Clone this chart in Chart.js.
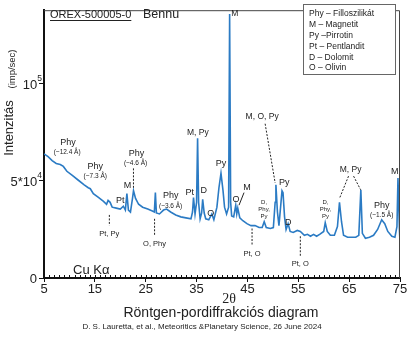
<!DOCTYPE html>
<html>
<head>
<meta charset="utf-8">
<script src="https://cdn.jsdelivr.net/npm/chart.js@4.4.1/dist/chart.umd.min.js"></script>
<style>
body { margin: 0; background: #fff; }
#wrap { width: 408px; height: 337px; }
</style>
</head>
<body>
<div id="wrap"><canvas id="myChart"></canvas></div>
<script>
// XRD pattern of Bennu sample
var twoTheta = [5.0, 5.8, 6.6, 7.4, 8.2, 8.8, 9.5, 10.5, 11.7, 12.9, 13.7, 14.1, 14.7, 15.7, 16.7, 17.3, 17.6, 18.0, 18.4, 19.2,
    20.0, 20.6, 21.0, 21.3, 21.6, 22.0, 22.4, 22.6, 23.0, 23.6, 24.4, 25.4, 26.3, 26.7, 26.9, 27.1, 27.7, 28.5, 29.1, 29.9,
    30.9, 31.9, 32.9, 33.9, 34.2, 34.4, 34.7, 35.0, 35.2, 35.4, 35.7, 36.0, 36.2, 36.5, 36.8, 37.4, 38.0, 38.4, 39.0, 39.4,
    39.8, 40.2, 40.5, 40.9, 41.3, 41.5, 41.7, 41.9, 42.3, 42.7, 42.9, 43.1, 43.5, 44.1, 44.9, 45.7, 46.5, 47.3, 47.9, 48.3,
    48.7, 49.5, 50.1, 50.45, 50.6, 50.9, 51.2, 51.6, 51.8, 52.0, 52.3, 52.6, 53.0, 53.4, 54.0, 54.8, 55.4, 56.2, 56.8, 57.4,
    58.0, 58.6, 59.2, 60.0, 60.3, 60.7, 61.3, 62.1, 62.7, 63.1, 63.5, 63.9, 64.7, 65.5, 66.3, 66.9, 67.3, 67.6, 68.2, 69.0,
    69.8, 70.6, 71.4, 72.0, 72.6, 73.4, 74.0, 74.4, 74.6, 74.9, 75.0];
var intensity = [64000, 62500, 60500, 59000, 58500, 57500, 55000, 53000, 50500, 48000, 46500, 46000, 43500, 41500, 39500, 38000, 40000, 39000, 36500, 36000,
    35500, 37000, 35000, 43500, 35000, 34000, 41000, 45000, 41000, 38000, 36500, 35500, 34500, 34000, 44000, 33500, 33000, 35000, 35500, 34000,
    32500, 31500, 31000, 30500, 34000, 41500, 33000, 39000, 72000, 39000, 30500, 33500, 40500, 33500, 30500, 30000, 33000, 30000, 36500, 46500,
    54000, 45000, 36500, 33000, 36500, 136000, 39000, 32000, 31500, 37500, 33000, 36000, 31000, 29500, 28000, 27000, 27000, 26000, 26000, 29000,
    26000, 25500, 26000, 39000, 48000, 34000, 27000, 39000, 45000, 44000, 31500, 25000, 28000, 24000, 23500, 24500, 24000, 22000, 22500, 21500,
    22500, 21500, 22500, 24000, 28500, 24000, 22000, 22000, 26500, 39000, 29000, 22000, 21000, 21000, 21000, 22000, 45500, 23000, 20500, 21000,
    22000, 25000, 30000, 28000, 24000, 21500, 21000, 26500, 51500, 24000, 19000];

var xTicks = [5, 15, 25, 35, 45, 55, 65, 75];
var yTicks = [0, 50000, 100000];
// [base, exponent]
var yTickLabels = [['0', ''], ['5*10', '4'], ['10', '5']];

var legendLines = ['Phy \u2013 Filloszilik\u00e1t', 'M \u2013 Magnetit', 'Py \u2013Pirrotin', 'Pt \u2013 Pentlandit', 'D \u2013 Dolomit', 'O \u2013 Olivin'];

// [text, 2theta, intensity, font size]
var peakLabels = [
    ['Phy', 9.74, 70000, 9], ['(~12.4 \u00c5)', 9.55, 65000, 6.5],
    ['Phy', 15.08, 57500, 9], ['(~7.3 \u00c5)', 15.08, 52500, 6.5],
    ['Phy', 23.2, 64000, 9], ['(~4.6 \u00c5)', 23.0, 59000, 6.5],
    ['M', 21.4, 47500, 9], ['Pt', 20.0, 40000, 9],
    ['Pt, Py', 17.85, 22500, 7.5], ['O, Phy', 26.74, 17500, 7.5],
    ['Phy', 29.9, 42500, 9], ['(~3.6 \u00c5)', 29.9, 37000, 6.5],
    ['Pt', 33.66, 44000, 9], ['D', 36.42, 45000, 9], ['M, Py', 35.24, 75000, 8.5],
    ['Py', 39.78, 59000, 9], ['O', 37.8, 33000, 9], ['O', 42.75, 40500, 9], ['M', 44.92, 46500, 9],
    ['M', 42.5, 136000, 8.5],
    ['D,', 48.28, 39000, 6], ['Phy,', 48.28, 35500, 6], ['Py', 48.28, 32000, 6],
    ['M, O, Py', 47.89, 83000, 8.5], ['Py', 52.23, 49000, 9], ['D', 53.02, 28500, 9],
    ['Pt, O', 45.91, 12500, 7.5], ['Pt, O', 55.4, 7500, 7.5],
    ['D,', 60.34, 39000, 6], ['Phy,', 60.34, 35500, 6], ['Py', 60.34, 32000, 6],
    ['M, Py', 65.28, 56000, 8.5], ['Phy', 71.4, 37500, 9], ['(~1.5 \u00c5)', 71.4, 32500, 6.5],
    ['M', 73.97, 55000, 9]
];

// [x1, y1, x2, y2, dashed]
var leaderLines = [
    [22.59, 56500, 22.59, 46500, true],
    [17.85, 32500, 17.85, 27000, true],
    [26.74, 30500, 26.74, 21500, true],
    [44.33, 44000, 43.34, 37500, false],
    [48.48, 79500, 50.45, 49000, true],
    [45.91, 25500, 45.91, 16500, true],
    [55.4, 21500, 55.4, 11000, true],
    [64.88, 52500, 63.1, 41000, true],
    [65.87, 52500, 67.25, 45500, true]
];

var FONT = "'Liberation Sans', Arial, sans-serif";

var decorPlugin = {
    id: 'decor',
    afterDraw: function (chart) {
        var ctx = chart.ctx;
        var xs = chart.scales.x;
        var ys = chart.scales.y;
        var a = chart.chartArea;
        ctx.save();

        // frame top / right
        ctx.strokeStyle = '#444';
        ctx.lineWidth = 1;
        ctx.beginPath();
        ctx.moveTo(a.left, a.top + 0.5);
        ctx.lineTo(a.right - 0.5, a.top + 0.5);
        ctx.lineTo(a.right - 0.5, a.bottom);
        ctx.stroke();

        // minor ticks every degree
        ctx.strokeStyle = '#111';
        ctx.beginPath();
        for (var d = 6; d < 75; d++) {
            var px = Math.round(xs.getPixelForValue(d)) + 0.5;
            ctx.moveTo(px, a.bottom - 3);
            ctx.lineTo(px, a.bottom);
        }
        ctx.stroke();

        // y tick labels with superscripts
        ctx.fillStyle = '#222';
        ctx.textBaseline = 'middle';
        yTicks.forEach(function (v, i) {
            var py = ys.getPixelForValue(v);
            var base = yTickLabels[i][0], ex = yTickLabels[i][1];
            ctx.font = '8.5px ' + FONT;
            var ew = ex ? ctx.measureText(ex).width : 0;
            ctx.textAlign = 'right';
            ctx.fillText(ex, 42, py - 5);
            ctx.font = '13px ' + FONT;
            ctx.fillText(base, 42 - ew - (ex ? 0 : 5), py + 1);
        });

        // leader lines
        ctx.strokeStyle = '#222';
        leaderLines.forEach(function (l) {
            ctx.setLineDash(l[4] ? [2, 1.5] : []);
            ctx.lineWidth = 1;
            ctx.beginPath();
            ctx.moveTo(xs.getPixelForValue(l[0]), ys.getPixelForValue(l[1]));
            ctx.lineTo(xs.getPixelForValue(l[2]), ys.getPixelForValue(l[3]));
            ctx.stroke();
        });
        ctx.setLineDash([]);

        // peak labels
        ctx.fillStyle = '#222';
        ctx.textAlign = 'center';
        ctx.textBaseline = 'middle';
        peakLabels.forEach(function (p) {
            ctx.font = p[3] + 'px ' + FONT;
            ctx.fillText(p[0], xs.getPixelForValue(p[1]), ys.getPixelForValue(p[2]));
        });

        // legend box
        ctx.fillStyle = '#fff';
        ctx.fillRect(303, 4, 92, 70);
        ctx.strokeStyle = '#666';
        ctx.strokeRect(303.5, 4.5, 92, 70);
        ctx.fillStyle = '#222';
        ctx.textAlign = 'left';
        ctx.font = '8.5px ' + FONT;
        legendLines.forEach(function (t, i) {
            ctx.fillText(t, 309, 14 + i * 10.8);
        });

        // title
        ctx.font = '11px ' + FONT;
        ctx.fillText('OREX-500005-0', 50, 15);
        var w = ctx.measureText('OREX-500005-0').width;
        ctx.fillRect(50, 20, w, 1);
        ctx.font = '12.5px ' + FONT;
        ctx.fillText('Bennu', 143, 15);

        // Cu K alpha
        ctx.font = '13px ' + FONT;
        ctx.fillText('Cu K\u03b1', 73, 270);

        // y title
        ctx.save();
        ctx.translate(9, 128);
        ctx.rotate(-Math.PI / 2);
        ctx.textAlign = 'center';
        ctx.font = '13px ' + FONT;
        ctx.fillText('Intenzit\u00e1s', 0, 0);
        ctx.restore();
        ctx.save();
        ctx.translate(12, 69);
        ctx.rotate(-Math.PI / 2);
        ctx.textAlign = 'center';
        ctx.font = '9.5px ' + FONT;
        ctx.fillText('(imp/sec)', 0, 0);
        ctx.restore();

        // x titles
        ctx.textAlign = 'center';
        ctx.font = "14px 'Liberation Serif', serif";
        ctx.fillText('2\u03b8', 229, 299);
        ctx.font = '14px ' + FONT;
        ctx.fillText('R\u00f6ntgen-pordiffrakci\u00f3s diagram', 221, 313);
        ctx.font = '8px ' + FONT;
        ctx.fillText('D. S. Lauretta, et al., Meteoritics &Planetary Science, 26 June 2024', 202, 327);

        ctx.restore();
    }
};

function initGraph() {
    var points = twoTheta.map(function (t, i) { return { x: t, y: intensity[i] }; });
    var config = {
        type: 'line',
        data: {
            datasets: [{
                data: points,
                borderColor: '#2b7bc4',
                borderWidth: 1.6,
                pointRadius: 0,
                tension: 0,
                fill: false
            }]
        },
        options: {
            responsive: true,
            maintainAspectRatio: false,
            animation: false,
            layout: { padding: { top: 2, right: 8, left: 0, bottom: 0 } },
            plugins: { legend: { display: false }, tooltip: { enabled: false } },
            scales: {
                x: {
                    type: 'linear',
                    min: 5,
                    max: 75,
                    afterBuildTicks: function (s) { s.ticks = xTicks.map(function (v) { return { value: v }; }); },
                    afterFit: function (s) { s.height = 59; },
                    grid: { drawOnChartArea: false, tickLength: 4, color: '#111', tickColor: '#111' },
                    border: { color: '#111', width: 2 },
                    ticks: { color: '#222', font: { size: 13, family: FONT }, padding: 0, maxRotation: 0 }
                },
                y: {
                    min: 0,
                    max: 138000,
                    afterBuildTicks: function (s) { s.ticks = yTicks.map(function (v) { return { value: v }; }); },
                    afterFit: function (s) { s.width = 44; },
                    grid: { drawOnChartArea: false, tickLength: 5, color: '#111', tickColor: '#111' },
                    border: { color: '#111', width: 2 },
                    ticks: { callback: function () { return ''; } }
                }
            }
        },
        plugins: [decorPlugin]
    };
    new Chart(document.getElementById('myChart'), config);
}
initGraph();
</script>
</body>
</html>
